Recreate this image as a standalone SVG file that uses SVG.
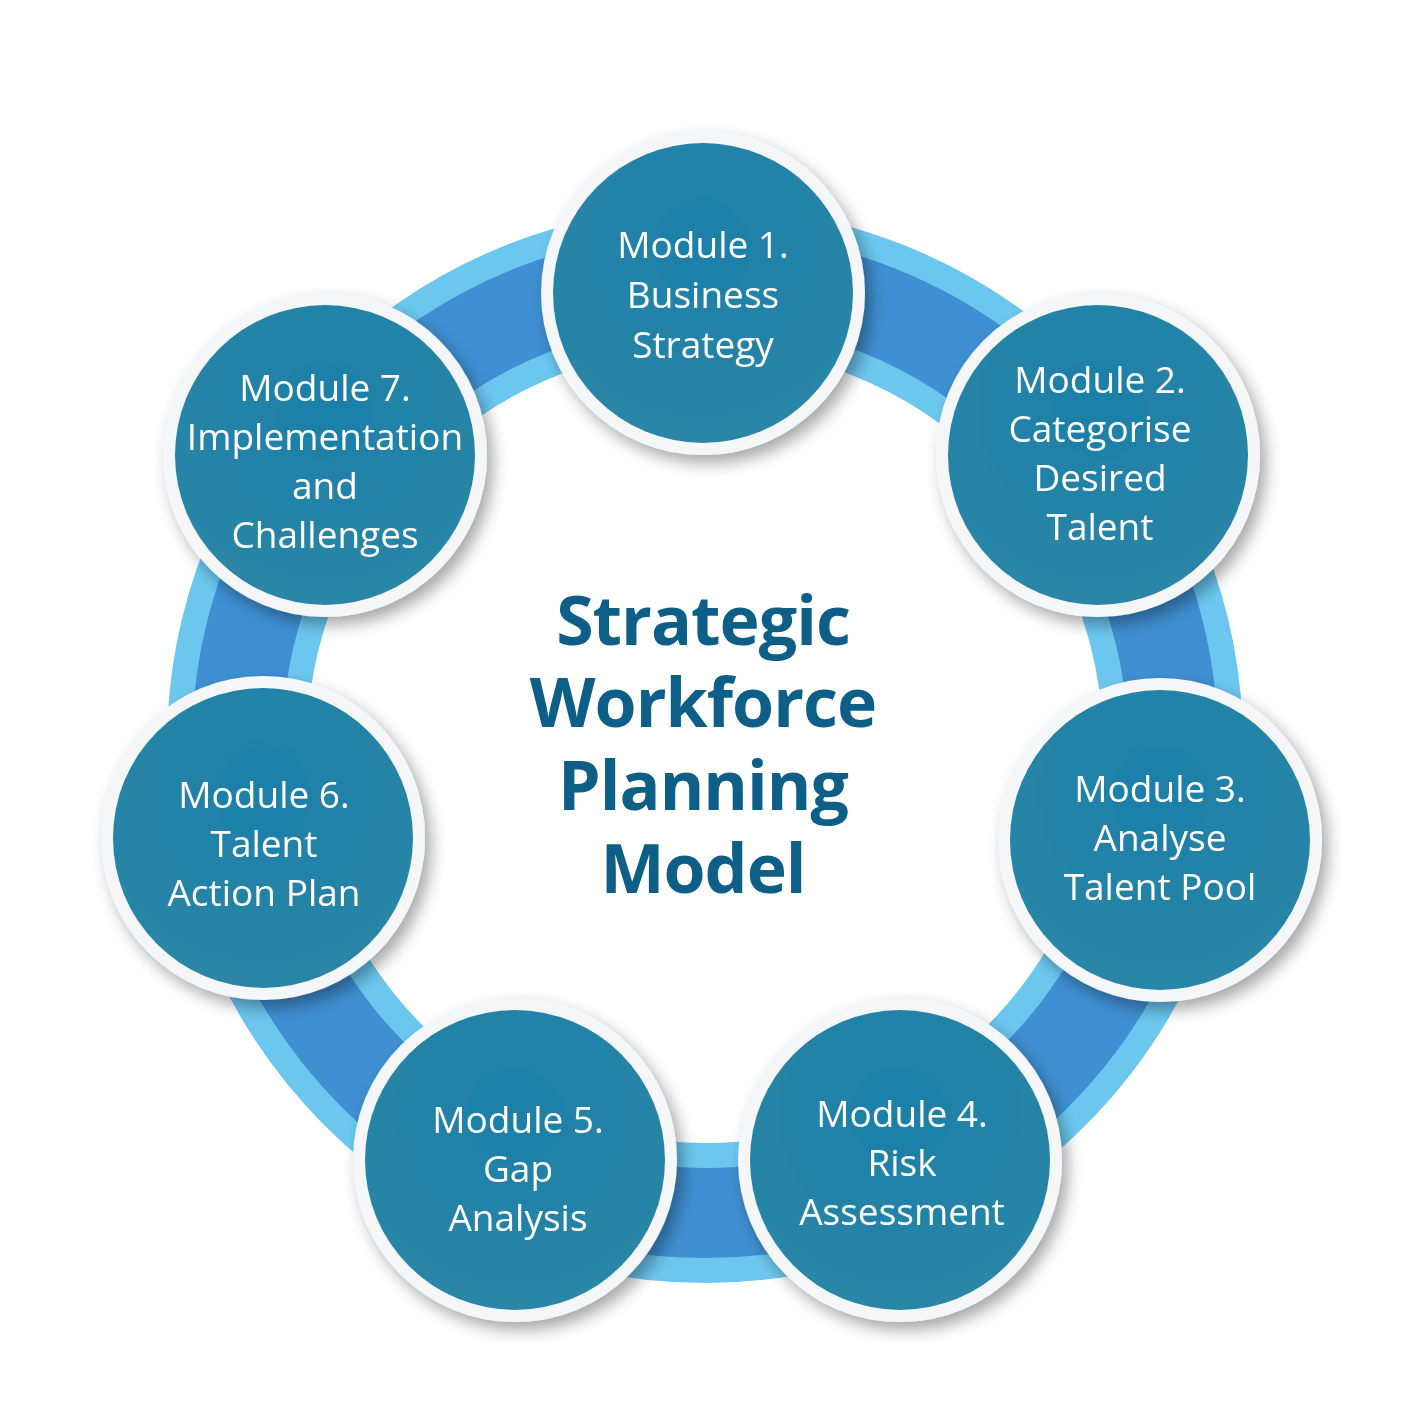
<svg xmlns="http://www.w3.org/2000/svg" width="1417" height="1417" viewBox="0 0 1417 1417">
<defs>
<radialGradient id="ng" cx="0.5" cy="0.35" r="0.65">
<stop offset="0" stop-color="#1c7fa8"/><stop offset="1" stop-color="#2a86a6"/>
</radialGradient>
<filter id="sh" x="-20%" y="-20%" width="150%" height="150%"><feGaussianBlur in="SourceAlpha" stdDeviation="8"/><feOffset dx="6" dy="8"/><feComponentTransfer><feFuncA type="linear" slope="0.35"/></feComponentTransfer><feMerge><feMergeNode/><feMergeNode in="SourceGraphic"/></feMerge></filter>
<style>
.ring-out{fill:none;stroke:#6cc7ef;stroke-width:140}
.ring-in{fill:none;stroke:#3f8fd2;stroke-width:90}
.bd{fill:#f4f6f8}
.nd{fill:url(#ng)}
.t{font-family:"Open Sans","Liberation Sans",sans-serif;font-size:37px;fill:#fff;text-anchor:middle}
.title{font-family:"Open Sans","Liberation Sans",sans-serif;font-weight:bold;font-size:68px;fill:#0d5f88;text-anchor:middle;letter-spacing:-1px}
</style>
</defs>
<rect width="1417" height="1417" fill="#fff"/>
<g id="connectors">
<circle cx="705" cy="745" r="468" class="ring-out"/>
<circle cx="705" cy="745" r="468" class="ring-in"/>
</g>
<g id="m1" filter="url(#sh)"><circle cx="703" cy="293" r="162" class="bd"/><circle cx="703" cy="293" r="150" class="nd"/>
<text class="t" x="703" y="258">Module 1.</text><text class="t" x="703" y="308">Business</text><text class="t" x="703" y="358">Strategy</text></g>
<g id="m2" filter="url(#sh)"><circle cx="1098" cy="455" r="162" class="bd"/><circle cx="1098" cy="455" r="150" class="nd"/>
<text class="t" x="1100" y="393">Module 2.</text><text class="t" x="1100" y="442">Categorise</text><text class="t" x="1100" y="491">Desired</text><text class="t" x="1100" y="540">Talent</text></g>
<g id="m3" filter="url(#sh)"><circle cx="1160" cy="840" r="162" class="bd"/><circle cx="1160" cy="840" r="150" class="nd"/>
<text class="t" x="1160" y="802">Module 3.</text><text class="t" x="1160" y="851">Analyse</text><text class="t" x="1160" y="900">Talent Pool</text></g>
<g id="m4" filter="url(#sh)"><circle cx="900" cy="1160" r="162" class="bd"/><circle cx="900" cy="1160" r="150" class="nd"/>
<text class="t" x="902" y="1127">Module 4.</text><text class="t" x="902" y="1176">Risk</text><text class="t" x="902" y="1225">Assessment</text></g>
<g id="m5" filter="url(#sh)"><circle cx="515" cy="1160" r="162" class="bd"/><circle cx="515" cy="1160" r="150" class="nd"/>
<text class="t" x="518" y="1133">Module 5.</text><text class="t" x="518" y="1182">Gap</text><text class="t" x="518" y="1231">Analysis</text></g>
<g id="m6" filter="url(#sh)"><circle cx="263" cy="838" r="162" class="bd"/><circle cx="263" cy="838" r="150" class="nd"/>
<text class="t" x="264" y="808">Module 6.</text><text class="t" x="264" y="857">Talent</text><text class="t" x="264" y="906">Action Plan</text></g>
<g id="m7" filter="url(#sh)"><circle cx="325" cy="455" r="162" class="bd"/><circle cx="325" cy="455" r="150" class="nd"/>
<text class="t" x="325" y="401">Module 7.</text><text class="t" x="325" y="450">Implementation</text><text class="t" x="325" y="499">and</text><text class="t" x="325" y="548">Challenges</text></g>
<g id="title">
<text class="title" x="703" y="645">Strategic</text><text class="title" x="703" y="727">Workforce</text><text class="title" x="703" y="810">Planning</text><text class="title" x="703" y="893">Model</text></g>
</svg>
